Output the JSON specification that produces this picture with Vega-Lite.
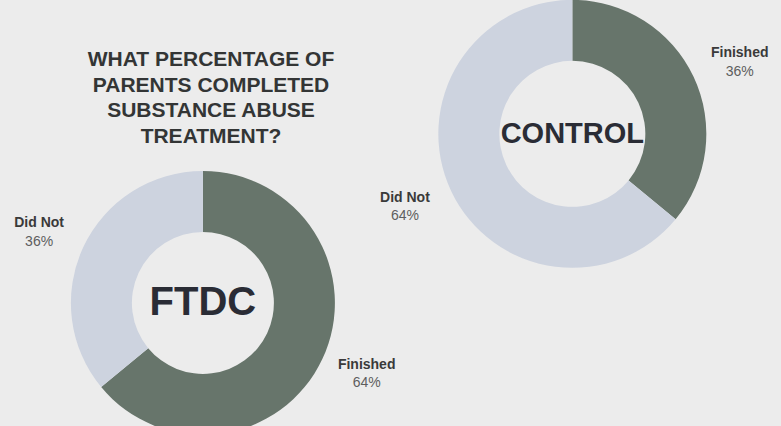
{
  "$schema": "https://vega.github.io/schema/vega-lite/v6.json",
  "width": 781,
  "height": 426,
  "autosize": "none",
  "padding": 0,
  "background": "#ececec",
  "view": {"stroke": null},
  "title": {
    "text": ["WHAT PERCENTAGE OF", "PARENTS COMPLETED", "SUBSTANCE ABUSE", "TREATMENT?"],
    "orient": "top",
    "anchor": "start",
    "frame": "group",
    "align": "center",
    "baseline": "alphabetic",
    "dx": 211,
    "offset": -164,
    "font": "Liberation Sans",
    "fontSize": 21,
    "fontWeight": "bold",
    "color": "#333535",
    "lineHeight": 25.5
  },
  "data": {
    "values": [
      {"group": "FTDC", "status": "Finished", "pct": 0.64},
      {"group": "FTDC", "status": "Did Not", "pct": 0.36},
      {"group": "CONTROL", "status": "Finished", "pct": 0.36},
      {"group": "CONTROL", "status": "Did Not", "pct": 0.64}
    ]
  },
  "encoding": {
    "x": {"field": "group", "type": "nominal", "axis": null,
      "scale": {"type": "point", "domain": ["FTDC", "CONTROL"], "padding": 0.557, "align": 0.493}},
    "y": {"field": "group", "type": "nominal", "axis": null,
      "scale": {"type": "point", "domain": ["CONTROL", "FTDC"], "padding": 0.76, "align": 0.521}}
  },
  "layer": [
    {
      "transform": [{"filter": "datum.group === 'FTDC'"}],
      "layer": [
        {
          "mark": {"type": "arc", "outerRadius": 132, "innerRadius": 71},
          "encoding": {
            "theta": {"field": "pct", "type": "quantitative", "stack": true},
            "color": {"field": "status", "type": "nominal", "legend": null,
              "scale": {"domain": ["Finished", "Did Not"], "range": ["#67756b", "#cdd3df"]}},
            "order": {"field": "status", "sort": "descending"}
          }
        },
        {
          "mark": {"type": "text", "radius": 181, "dy": {"expr": "datum.status === 'Did Not' ? -3 : -15"}, "font": "Liberation Sans", "fontSize": 14, "fontWeight": "bold", "color": "#3a3a3a"},
          "encoding": {
            "theta": {"field": "pct", "type": "quantitative", "stack": true},
            "order": {"field": "status", "sort": "descending"},
            "text": {"field": "status"}
          }
        },
        {
          "mark": {"type": "text", "radius": 181, "dy": {"expr": "datum.status === 'Did Not' ? 16 : 3"}, "font": "Liberation Sans", "fontSize": 14, "color": "#5e5e5e"},
          "encoding": {
            "theta": {"field": "pct", "type": "quantitative", "stack": true},
            "order": {"field": "status", "sort": "descending"},
            "text": {"field": "pct", "format": ".0%"}
          }
        },
        {
          "transform": [{"filter": "datum.status === 'Finished'"}],
          "mark": {"type": "text", "font": "Liberation Sans", "fontSize": 40, "fontWeight": "bold", "color": "#2a2c35", "baseline": "middle"},
          "encoding": {"text": {"field": "group"}}
        }
      ]
    },
    {
      "transform": [{"filter": "datum.group === 'CONTROL'"}],
      "layer": [
        {
          "mark": {"type": "arc", "outerRadius": 134, "innerRadius": 73},
          "encoding": {
            "theta": {"field": "pct", "type": "quantitative", "stack": true},
            "color": {"field": "status", "type": "nominal", "legend": null,
              "scale": {"domain": ["Finished", "Did Not"], "range": ["#67756b", "#cdd3df"]}},
            "order": {"field": "status", "sort": "descending"}
          }
        },
        {
          "mark": {"type": "text", "radius": 185, "dy": {"expr": "datum.status === 'Finished' ? -2 : -15"}, "font": "Liberation Sans", "fontSize": 14, "fontWeight": "bold", "color": "#3a3a3a"},
          "encoding": {
            "theta": {"field": "pct", "type": "quantitative", "stack": true},
            "order": {"field": "status", "sort": "descending"},
            "text": {"field": "status"}
          }
        },
        {
          "mark": {"type": "text", "radius": 185, "dy": {"expr": "datum.status === 'Finished' ? 17 : 3"}, "font": "Liberation Sans", "fontSize": 14, "color": "#5e5e5e"},
          "encoding": {
            "theta": {"field": "pct", "type": "quantitative", "stack": true},
            "order": {"field": "status", "sort": "descending"},
            "text": {"field": "pct", "format": ".0%"}
          }
        },
        {
          "transform": [{"filter": "datum.status === 'Finished'"}],
          "mark": {"type": "text", "font": "Liberation Sans", "fontSize": 29, "fontWeight": "bold", "color": "#2a2c35", "baseline": "middle"},
          "encoding": {"text": {"field": "group"}}
        }
      ]
    }
  ]
}
